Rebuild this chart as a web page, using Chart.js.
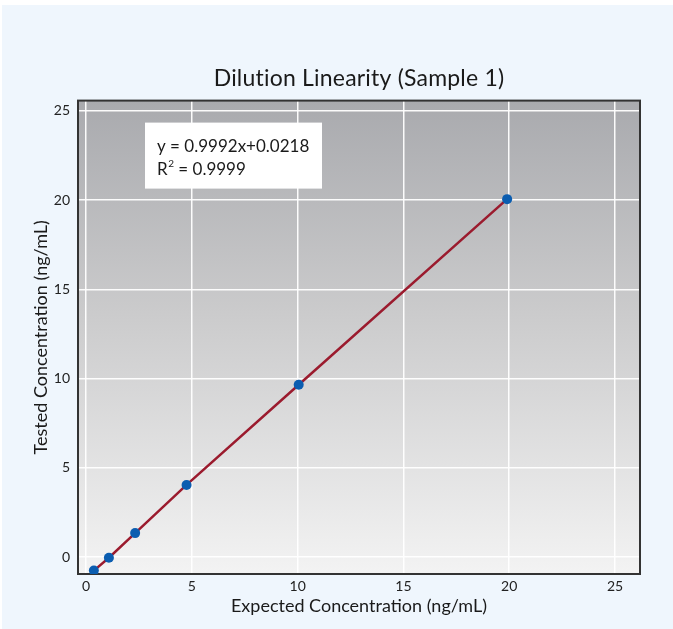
<!DOCTYPE html>
<html>
<head>
<meta charset="utf-8">
<script src="https://cdn.jsdelivr.net/npm/chart.js@4.4.1/dist/chart.umd.min.js"></script>
<style>
  html, body { margin: 0; padding: 0; background: #ffffff; width: 673px; height: 629px; overflow: hidden; }
  #panel { position: absolute; left: 2px; top: 5px; right: 0; bottom: 0; background: #eff6fd; }
  #c { position: absolute; left: 0; top: 0; }
</style>
</head>
<body>
<div id="panel"></div>
<canvas id="c" width="673" height="629"></canvas>
<script>
// ---- data ----
const expectedConc = [0.37, 1.08, 2.32, 4.75, 10.05, 19.9];
const testedConc   = [-0.76, -0.04, 1.34, 4.04, 9.65, 20.05];
const xTickValues  = [0, 5, 10, 15, 20, 25];
const yTickValues  = [0, 5, 10, 15, 20, 25];
const chartTitle   = 'Dilution Linearity (Sample 1)';
const xAxisTitle   = 'Expected Concentration (ng/mL)';
const yAxisTitle   = 'Tested Concentration (ng/mL)';
const equationText = 'y = 0.9992x+0.0218';
const r2Text       = '0.9999';

const FONT = 'Lato';
const TITLE_SIZE = 23;

const plotBackground = {
  id: 'plotBackground',
  beforeDraw(chart) {
    const {ctx, chartArea: a} = chart;
    const g = ctx.createLinearGradient(0, a.top, 0, a.bottom);
    g.addColorStop(0, '#a9aaae');
    g.addColorStop(0.45, '#cbcbcc');
    g.addColorStop(1, '#f3f3f3');
    ctx.save();
    ctx.fillStyle = g;
    ctx.fillRect(a.left, a.top, a.right - a.left, a.bottom - a.top);
    ctx.restore();
  }
};

const plotFrame = {
  id: 'plotFrame',
  beforeDatasetsDraw(chart) {
    const {ctx, chartArea: a} = chart;
    ctx.save();
    ctx.strokeStyle = '#333333';
    ctx.lineWidth = 2;
    ctx.strokeRect(a.left, a.top, a.right - a.left, a.bottom - a.top);
    ctx.restore();
  }
};

// title centred over the plot area (Chart.js title box reserves the space)
const centredTitle = {
  id: 'centredTitle',
  afterDraw(chart) {
    const {ctx, chartArea: a} = chart;
    const t = chart.titleBlock;
    ctx.save();
    if ('letterSpacing' in ctx) ctx.letterSpacing = '0.2px';
    ctx.font = TITLE_SIZE + 'px ' + FONT;
    ctx.fillStyle = '#1a1a1a';
    ctx.textAlign = 'center';
    ctx.textBaseline = 'middle';
    const cy = t.top + t.options.padding.top + (TITLE_SIZE * 1.2) / 2;
    ctx.fillText(chartTitle, (a.left + a.right) / 2, cy);
    ctx.restore();
  }
};

const equationBox = {
  id: 'equationBox',
  afterDatasetsDraw(chart) {
    const {ctx, chartArea: a} = chart;
    const bx = a.left + 67, by = a.top + 22, bw = 177, bh = 66;
    ctx.save();
    ctx.fillStyle = '#ffffff';
    ctx.fillRect(bx, by, bw, bh);
    ctx.fillStyle = '#1a1a1a';
    ctx.textBaseline = 'alphabetic';
    ctx.font = '17px ' + FONT;
    const tx = bx + 12;
    ctx.fillText(equationText, tx, by + 29);
    const y2 = by + 52;
    ctx.fillText('R', tx, y2);
    const rw = ctx.measureText('R').width;
    ctx.font = '10px ' + FONT;
    ctx.fillText('2', tx + rw + 0.5, y2 - 8);
    const sw = ctx.measureText('2').width;
    ctx.font = '17px ' + FONT;
    ctx.fillText(' = ' + r2Text, tx + rw + sw + 0.5, y2);
    ctx.restore();
  }
};

function fixTicks(values) {
  return function(scale) { scale.ticks = values.map(v => ({value: v})); };
}

new Chart(document.getElementById('c'), {
  type: 'scatter',
  data: {
    datasets: [{
      data: expectedConc.map((x, i) => ({x: x, y: testedConc[i]})),
      showLine: true,
      borderColor: '#9b1b2e',
      borderWidth: 2.5,
      backgroundColor: '#0b5db0',
      pointBackgroundColor: '#0b5db0',
      pointBorderWidth: 0,
      pointRadius: 5,
      tension: 0
    }]
  },
  options: {
    responsive: false,
    animation: false,
    devicePixelRatio: 1,
    layout: { padding: { left: 30, right: 33, top: 0, bottom: 0 } },
    plugins: {
      legend: { display: false },
      tooltip: { enabled: false },
      title: {
        display: true,
        text: chartTitle,
        color: 'rgba(0,0,0,0)',
        font: { family: FONT, size: TITLE_SIZE, weight: 'normal' },
        padding: { top: 65, bottom: 8 }
      }
    },
    scales: {
      x: {
        type: 'linear',
        min: -0.38,
        max: 26.18,
        afterBuildTicks: fixTicks(xTickValues),
        afterFit(scale) { scale.height = 55; },
        grid: { color: 'rgba(255,255,255,0.95)', lineWidth: 1.5, drawTicks: false },
        border: { display: false },
        ticks: { color: '#222', padding: 4, font: { family: FONT, size: 14 } },
        title: { display: true, text: xAxisTitle, color: '#1a1a1a', font: { family: FONT, size: 18 }, padding: { top: 0, bottom: 12 } }
      },
      y: {
        type: 'linear',
        min: -0.95,
        max: 25.57,
        afterBuildTicks: fixTicks(yTickValues),
        afterFit(scale) { scale.width = 48; },
        grid: { color: 'rgba(255,255,255,0.95)', lineWidth: 1.5, drawTicks: false },
        border: { display: false },
        ticks: { color: '#222', padding: 8, font: { family: FONT, size: 14 } },
        title: { display: true, text: yAxisTitle, color: '#1a1a1a', font: { family: FONT, size: 18 }, padding: { top: 0, bottom: 0 } }
      }
    }
  },
  plugins: [plotBackground, plotFrame, equationBox, centredTitle]
});
</script>
</body>
</html>
